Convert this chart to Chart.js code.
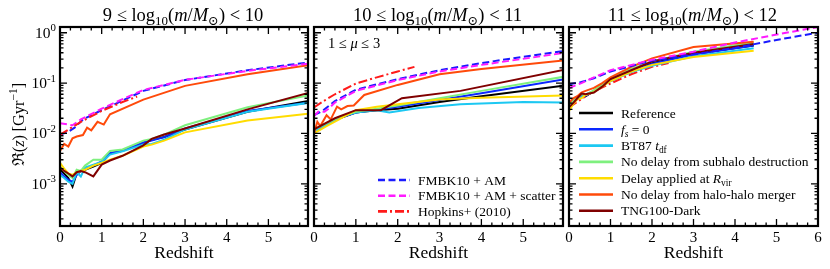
<!DOCTYPE html>
<html>
<head>
<meta charset="utf-8">
<script src="https://cdn.jsdelivr.net/npm/chart.js@4.4.1/dist/chart.umd.min.js"></script>
<style>
html, body { margin: 0; padding: 0; background: #fff; }
#wrap { position: relative; width: 830px; height: 269px; }
canvas { position: absolute; left: 0; top: 0; }
</style>
</head>
<body>
<div id="wrap">
    <canvas id="p1" width="830" height="269"></canvas>
    <canvas id="p2" width="830" height="269"></canvas>
    <canvas id="p3" width="830" height="269"></canvas>
</div>
<script>
// ---- data: 9 <= log m < 10 ----
const p1Z = [0, 0.1, 0.2, 0.3, 0.4, 0.5, 0.6, 0.8, 1.0, 1.2, 1.5, 2.0, 2.2, 2.5, 3.0, 4.5, 6.0];
const p1Ref = [0.0019, 0.0016, 0.0013, 0.00088, 0.0016, 0.0018, 0.0019, 0.0022, 0.0026, 0.0040, 0.0045, 0.0065, 0.0075, 0.0085, 0.012, 0.027, 0.045];
const p1Fs0 = [0.0017, 0.0014, 0.0012, 0.0011, 0.0015, 0.0018, 0.0020, 0.0023, 0.0028, 0.0041, 0.0045, 0.0066, 0.0072, 0.0085, 0.0125, 0.028, 0.041];
const p1Bt87 = [0.0015, 0.0013, 0.0011, 0.0010, 0.0017, 0.0014, 0.0021, 0.0024, 0.0027, 0.0038, 0.0044, 0.0060, 0.0062, 0.0075, 0.012, 0.027, 0.041];
const p1NoSub = [0.0022, 0.0018, 0.0015, 0.0013, 0.0019, 0.0018, 0.0023, 0.0030, 0.0030, 0.0045, 0.0048, 0.0072, 0.0078, 0.0095, 0.0145, 0.033, 0.058];
const p1Rvir = [0.0026, 0.0020, 0.0016, 0.0015, 0.0017, 0.0018, 0.0019, 0.0023, 0.0026, 0.0030, 0.0036, 0.0055, 0.0060, 0.0072, 0.0105, 0.018, 0.025];
const p1Tng = [0.0021, 0.0018, 0.0016, 0.0014, 0.0017, 0.0018, 0.0017, 0.0014, 0.0024, 0.0029, 0.0036, 0.0058, 0.0078, 0.0095, 0.0125, 0.030, 0.065];
const p1NoHHZ = [0, 0.1, 0.2, 0.3, 0.4, 0.55, 0.65, 0.75, 0.9, 1.05, 1.2, 2.0, 3.0, 4.5, 6.0];
const p1NoHH = [0.0045, 0.0062, 0.0055, 0.008, 0.0087, 0.0093, 0.013, 0.0115, 0.017, 0.015, 0.024, 0.047, 0.088, 0.15, 0.23];
const p1FmbkZ = [0, 0.2, 0.35, 0.55, 1.0, 1.5, 2.0, 3.0, 4.5, 6.0];
const p1Fmbk = [0.0094, 0.0108, 0.013, 0.019, 0.029, 0.045, 0.07, 0.115, 0.18, 0.26];
const p1FmbkSZ = [0, 0.3, 0.5, 1.0, 1.5, 2.0, 3.0, 4.5, 6.0];
const p1FmbkS = [0.016, 0.0145, 0.019, 0.031, 0.048, 0.073, 0.116, 0.175, 0.245];
const p1HopZ = [0, 0.5, 1.0, 1.5, 1.85];
const p1Hop = [0.0094, 0.017, 0.028, 0.042, 0.054];

// ---- data: 10 <= log m < 11 ----
const p2Z = [0, 0.3, 0.6, 1.0, 1.5, 2.0, 3.0, 4.0, 6.0];
const p2Ref = [0.011, 0.015, 0.020, 0.026, 0.029, 0.031, 0.042, 0.055, 0.090];
const p2Fs0 = [0.011, 0.015, 0.020, 0.026, 0.030, 0.034, 0.046, 0.063, 0.120];
const p2NoSub = [0.012, 0.016, 0.021, 0.027, 0.031, 0.036, 0.050, 0.070, 0.135];
const p2Rvir = [0.010, 0.014, 0.019, 0.029, 0.034, 0.038, 0.047, 0.051, 0.057];
const p2Bt87Z = [0, 0.3, 0.6, 1.0, 1.5, 1.8, 2.5, 3.5, 5.0, 6.0];
const p2Bt87 = [0.011, 0.015, 0.021, 0.026, 0.029, 0.026, 0.032, 0.038, 0.042, 0.041];
const p2TngZ = [0, 0.5, 1.0, 1.6, 2.1, 3.5, 6.0];
const p2Tng = [0.012, 0.020, 0.029, 0.029, 0.050, 0.070, 0.185];
const p2NoHHZ = [0, 0.08, 0.15, 0.3, 0.4, 0.55, 0.65, 0.8, 0.95, 1.2, 2.0, 3.0, 4.0, 6.0];
const p2NoHH = [0.010, 0.017, 0.014, 0.023, 0.019, 0.034, 0.030, 0.035, 0.036, 0.058, 0.092, 0.15, 0.19, 0.285];
const p2FmbkZ = [0, 0.2, 0.5, 1.0, 2.0, 3.0, 4.0, 6.0];
const p2Fmbk = [0.023, 0.028, 0.044, 0.074, 0.12, 0.18, 0.25, 0.44];
const p2FmbkSZ = [0, 0.1, 0.25, 0.35, 0.5, 1.0, 2.0, 3.0, 4.0, 6.0];
const p2FmbkS = [0.022, 0.027, 0.027, 0.031, 0.041, 0.070, 0.115, 0.17, 0.23, 0.40];
const p2HopZ = [0, 0.25, 0.5, 1.0, 1.5, 2.0, 2.4];
const p2Hop = [0.033, 0.045, 0.060, 0.098, 0.13, 0.17, 0.21];

// ---- data: 11 <= log m < 12 ----
const p3Z = [0, 0.1, 0.2, 0.3, 0.4, 0.6, 0.8, 1.0, 1.5, 2.0, 3.0, 4.45];
const p3Ref = [0.035, 0.045, 0.050, 0.058, 0.055, 0.070, 0.090, 0.115, 0.18, 0.25, 0.38, 0.56];
const p3Fs0 = [0.033, 0.043, 0.048, 0.055, 0.056, 0.068, 0.088, 0.110, 0.17, 0.24, 0.37, 0.56];
const p3Bt87 = [0.032, 0.042, 0.050, 0.052, 0.060, 0.070, 0.090, 0.110, 0.165, 0.22, 0.34, 0.49];
const p3NoSub = [0.036, 0.046, 0.050, 0.060, 0.058, 0.072, 0.095, 0.125, 0.19, 0.27, 0.42, 0.64];
const p3Rvir = [0.028, 0.038, 0.048, 0.050, 0.058, 0.066, 0.085, 0.110, 0.17, 0.23, 0.33, 0.44];
const p3NoHH = [0.040, 0.050, 0.055, 0.065, 0.070, 0.080, 0.100, 0.130, 0.21, 0.31, 0.52, 0.66];
const p3Tng = [0.033, 0.040, 0.050, 0.062, 0.060, 0.065, 0.085, 0.120, 0.18, 0.27, 0.40, 0.60];
const p3FmbkZ = [0, 0.3, 0.6, 1.0, 2.0, 3.0, 4.0, 5.0, 6.0];
const p3Fmbk = [0.095, 0.105, 0.125, 0.17, 0.28, 0.37, 0.50, 0.72, 1.0];
const p3FmbkS = [0.080, 0.100, 0.130, 0.18, 0.29, 0.42, 0.64, 0.92, 1.3];
const p3HopZ = [0, 0.5, 1.0, 1.5, 2.0, 2.4];
const p3Hop = [0.033, 0.062, 0.098, 0.15, 0.21, 0.25];

// ticks
const xTicksShort = [0, 1, 2, 3, 4, 5];
const xTicksLong = [0, 1, 2, 3, 4, 5, 6];
const yTickExps = [0, -1, -2, -3];

const SERIF = '"Liberation Serif", "DejaVu Serif", serif';
const C = {
    ref: "#000000", fs0: "#0a28ff", bt87: "#1cc8f2", nosub: "#7ef07e", rvir: "#ffdc00",
    nohh: "#ff4a0a", tng: "#800000", fmbk: "#1a1aff", fmbks: "#ff1aff", hop: "#ff1a1a",
};
const DASH = [7, 3.5];
const DASHDOT = [9, 3, 2, 3];

function line(z, r, color, dash) {
    return { z, r, color, dash: dash || [] };
}

// rich text: segments {t, i: italic, s: "sub"|"sup"}
function drawRich(ctx, segs, x, y, size, align) {
    const parts = segs.map((s) => {
        const fs = s.s ? size * 0.7 : size;
        const font = (s.i ? "italic " : "") + fs + "px " + SERIF;
        ctx.font = font;
        return { s, font, w: ctx.measureText(s.t).width };
    });
    const total = parts.reduce((a, p) => a + p.w, 0);
    let cx = align === "center" ? x - total / 2 : align === "right" ? x - total : x;
    parts.forEach((p) => {
        ctx.font = p.font;
        const dy = p.s.s === "sub" ? size * 0.22 : p.s.s === "sup" ? -size * 0.42 : 0;
        ctx.fillText(p.s.t, cx, y + dy);
        cx += p.w;
    });
}

function makeDeco(panel) {
    return {
        id: "deco_" + panel.id,
        afterDatasetsDraw(chart) {
            const { ctx, chartArea: a } = chart;
            const x = chart.scales.x;
            const y = chart.scales.y;
            ctx.save();
            ctx.strokeStyle = "#000";
            ctx.fillStyle = "#000";
            ctx.textBaseline = "alphabetic";

            // inward ticks on all four sides
            ctx.lineWidth = 1.3;
            ctx.beginPath();
            for (let k = 0; k * 0.25 <= panel.xMax + 1e-9; k++) {
                const px = x.getPixelForValue(k * 0.25);
                const len = k % 4 === 0 ? 7 : 3.5;
                ctx.moveTo(px, a.bottom); ctx.lineTo(px, a.bottom - len);
                ctx.moveTo(px, a.top); ctx.lineTo(px, a.top + len);
            }
            for (let e = -4; e <= 0; e++) {
                for (let m = 1; m <= 9; m++) {
                    const v = m * Math.pow(10, e);
                    if (v < y.min || v > y.max) continue;
                    const py = y.getPixelForValue(v);
                    const len = m === 1 ? 7 : 3.5;
                    ctx.moveTo(a.left, py); ctx.lineTo(a.left + len, py);
                    ctx.moveTo(a.right, py); ctx.lineTo(a.right - len, py);
                }
            }
            ctx.stroke();

            ctx.lineWidth = 2.2;
            ctx.strokeRect(a.left, a.top, a.right - a.left, a.bottom - a.top);

            // x tick labels
            ctx.font = "15px " + SERIF;
            ctx.textAlign = "center";
            panel.xTicks.forEach((v) => {
                ctx.fillText(String(v), x.getPixelForValue(v), a.bottom + 16);
            });
            ctx.textAlign = "left";
            drawRich(ctx, [{ t: "Redshift" }], (a.left + a.right) / 2, 258, 17.5, "center");

            // title
            drawRich(ctx, panel.title, (a.left + a.right) / 2 - 1, 21, 18.5, "center");

            if (panel.yLabels) {
                yTickExps.forEach((e) => {
                    const py = y.getPixelForValue(Math.pow(10, e));
                    drawRich(ctx, [{ t: "10" }, { t: e === 0 ? "0" : "-" + (-e), s: "sup" }], a.left - 4, py + 5, 15.5, "right");
                });
                ctx.save();
                ctx.translate(24, (a.top + a.bottom) / 2 - 2);
                ctx.rotate(-Math.PI / 2);
                drawRich(ctx, [{ t: "\u211C" }, { t: "(" }, { t: "z", i: true }, { t: ")\u2009[Gyr" }, { t: "\u22121", s: "sup" }, { t: "]" }], 0, 0, 16.5, "center");
                ctx.restore();
            }

            if (panel.note) {
                drawRich(ctx, panel.note, a.left + 14, 48, 14.5, "left");
            }

            // legend
            if (panel.legend) {
                const lg = panel.legend;
                lg.items.forEach((it, i) => {
                    const ly = lg.y0 + i * lg.dy;
                    ctx.strokeStyle = it.color;
                    ctx.lineWidth = 2.6;
                    ctx.setLineDash(it.dash || []);
                    ctx.beginPath();
                    ctx.moveTo(lg.x0, ly);
                    ctx.lineTo(lg.x1, ly);
                    ctx.stroke();
                    ctx.setLineDash([]);
                    ctx.fillStyle = "#000";
                    drawRich(ctx, it.label, lg.tx, ly + 4.5, 13.5, "left");
                });
            }
            ctx.restore();
        },
    };
}

function buildChart(panel) {
    const datasets = panel.series.map((s, i) => ({
        data: s.z.map((v, j) => ({ x: v, y: s.r[j] })),
        borderColor: s.color,
        borderWidth: 2,
        borderDash: s.dash,
        pointRadius: 0,
        tension: 0,
        fill: false,
        order: -i,
        clip: 0,
    }));
    new Chart(document.getElementById(panel.id), {
        type: "line",
        data: { datasets },
        options: {
            responsive: false,
            animation: false,
            events: [],
            layout: { padding: { left: panel.left, right: 830 - panel.right, top: 27, bottom: 269 - 226 } },
            plugins: { legend: { display: false }, tooltip: { enabled: false } },
            scales: {
                x: { type: "linear", min: 0, max: panel.xMax, display: false },
                y: { type: "logarithmic", min: 1.45e-4, max: 1.3, display: false },
            },
        },
        plugins: [makeDeco(panel)],
    });
}

function massTitle(lo, hi) {
    return [
        { t: lo + " \u2264 log" }, { t: "10", s: "sub" }, { t: "(" }, { t: "m", i: true }, { t: "/" },
        { t: "M", i: true }, { t: "\u2299", s: "sub" }, { t: ") < " + hi },
    ];
}

buildChart({
    id: "p1", left: 60, right: 308, xMax: 5.95, xTicks: xTicksShort, yLabels: true,
    title: massTitle(9, 10),
    series: [
        line(p1Z, p1Ref, C.ref), line(p1Z, p1Fs0, C.fs0), line(p1Z, p1Bt87, C.bt87),
        line(p1Z, p1NoSub, C.nosub), line(p1Z, p1Rvir, C.rvir), line(p1NoHHZ, p1NoHH, C.nohh),
        line(p1Z, p1Tng, C.tng), line(p1FmbkZ, p1Fmbk, C.fmbk, DASH),
        line(p1FmbkSZ, p1FmbkS, C.fmbks, DASH), line(p1HopZ, p1Hop, C.hop, DASHDOT),
    ],
});

buildChart({
    id: "p2", left: 314, right: 563, xMax: 5.95, xTicks: xTicksShort,
    title: massTitle(10, 11),
    note: [{ t: "1 \u2264 " }, { t: "\u03BC", i: true }, { t: " \u2264 3" }],
    series: [
        line(p2Z, p2Ref, C.ref), line(p2Z, p2Fs0, C.fs0), line(p2Bt87Z, p2Bt87, C.bt87),
        line(p2Z, p2NoSub, C.nosub), line(p2Z, p2Rvir, C.rvir), line(p2NoHHZ, p2NoHH, C.nohh),
        line(p2TngZ, p2Tng, C.tng), line(p2FmbkZ, p2Fmbk, C.fmbk, DASH),
        line(p2FmbkSZ, p2FmbkS, C.fmbks, DASH), line(p2HopZ, p2Hop, C.hop, DASHDOT),
    ],
    legend: {
        x0: 378, x1: 410, tx: 418, y0: 180, dy: 15.7,
        items: [
            { color: C.fmbk, dash: DASH, label: [{ t: "FMBK10 + AM" }] },
            { color: C.fmbks, dash: DASH, label: [{ t: "FMBK10 + AM + scatter" }] },
            { color: C.hop, dash: DASHDOT, label: [{ t: "Hopkins+ (2010)" }] },
        ],
    },
});

buildChart({
    id: "p3", left: 569, right: 818, xMax: 6, xTicks: xTicksLong,
    title: massTitle(11, 12),
    series: [
        line(p3HopZ, p3Hop, C.hop, DASHDOT),
        line(p3Z, p3Ref, C.ref), line(p3Z, p3Fs0, C.fs0), line(p3Z, p3Bt87, C.bt87),
        line(p3Z, p3NoSub, C.nosub), line(p3Z, p3Rvir, C.rvir), line(p3Z, p3NoHH, C.nohh),
        line(p3Z, p3Tng, C.tng), line(p3FmbkZ, p3Fmbk, C.fmbk, DASH),
        line(p3FmbkZ, p3FmbkS, C.fmbks, DASH),
    ],
    legend: {
        x0: 579, x1: 613, tx: 621, y0: 113, dy: 16.3,
        items: [
            { color: C.ref, label: [{ t: "Reference" }] },
            { color: C.fs0, label: [{ t: "f", i: true }, { t: "s", i: true, s: "sub" }, { t: " = 0" }] },
            { color: C.bt87, label: [{ t: "BT87 " }, { t: "t", i: true }, { t: "df", s: "sub" }] },
            { color: C.nosub, label: [{ t: "No delay from subhalo destruction" }] },
            { color: C.rvir, label: [{ t: "Delay applied at " }, { t: "R", i: true }, { t: "vir", s: "sub" }] },
            { color: C.nohh, label: [{ t: "No delay from halo-halo merger" }] },
            { color: C.tng, label: [{ t: "TNG100-Dark" }] },
        ],
    },
});
</script>
</body>
</html>
